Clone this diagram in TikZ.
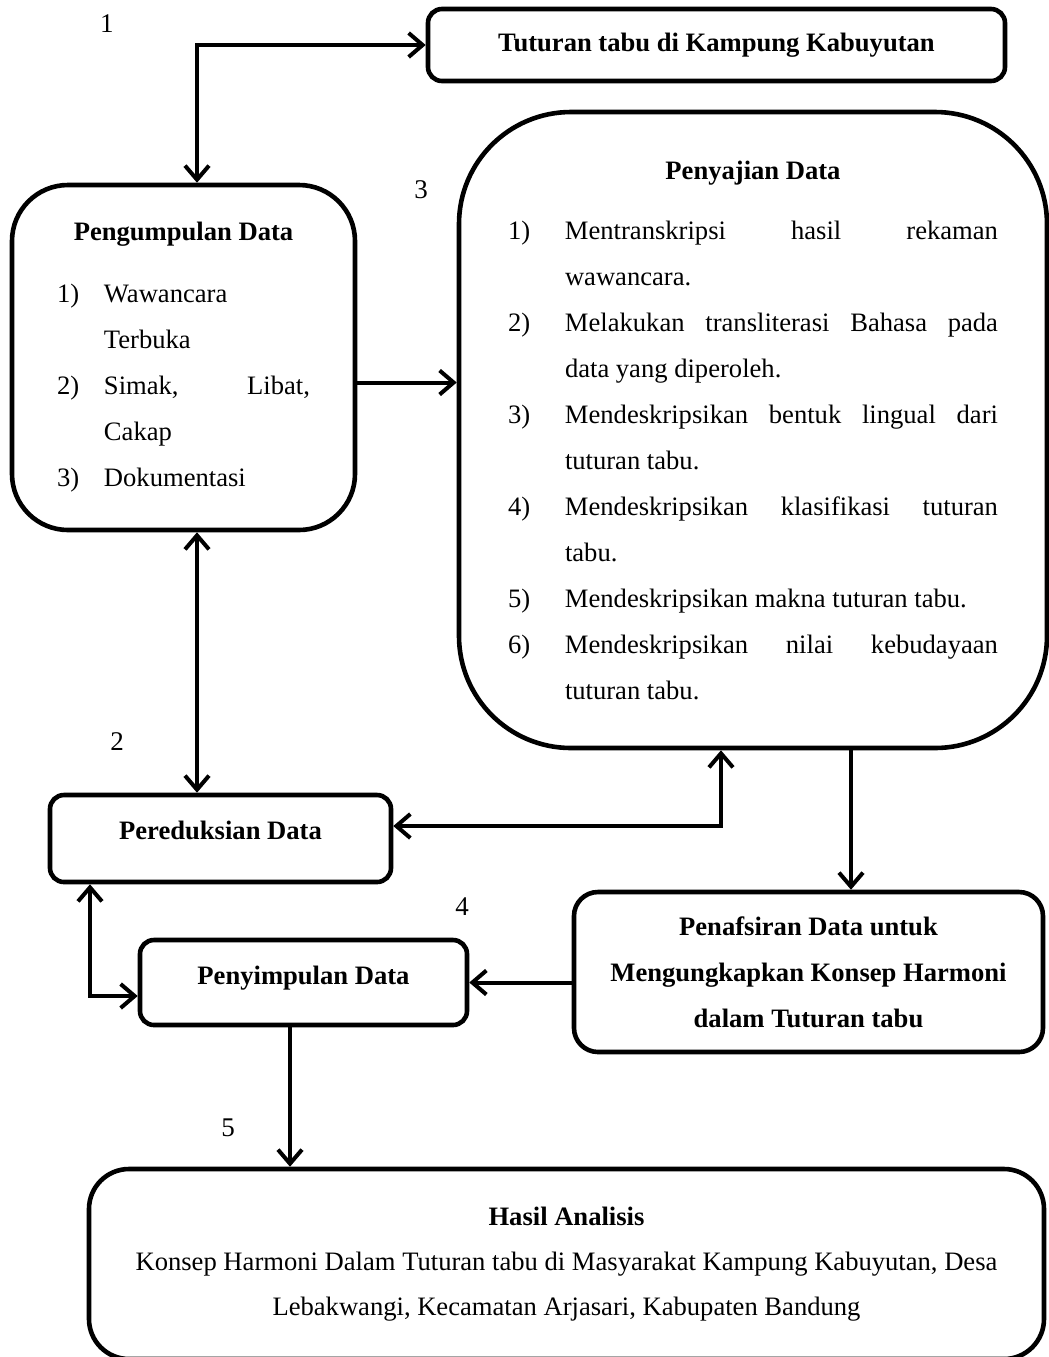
\documentclass[tikz,border=0pt]{standalone}
\usepackage{fontspec}
\setmainfont{Liberation Serif}
\usetikzlibrary{arrows.meta,positioning,calc}
\newcommand{\butir}[2]{\par\noindent\hangindent=#1\hangafter=1\makebox[#1][l]{#2}}

\begin{document}
\begin{tikzpicture}[
    x=0.5pt, y=-0.5pt,
    font=\fontsize{13.3}{23}\selectfont,
    box/.style={rectangle, draw, line width=2.3pt, rounded corners=7pt, inner sep=0pt},
    bigbox/.style={box, text width=#1, align=justify},
    numlabel/.style={inner sep=0pt, font=\fontsize{13.5}{16}\selectfont},
    arrow/.style={-{Straight Barb[length=7pt,width=12pt]}, line width=2pt},
    biarrow/.style={{Straight Barb[length=7pt,width=12pt]}-{Straight Barb[length=7pt,width=12pt]}, line width=2pt},
]
\useasboundingbox (0,0) rectangle (1049,1357);

% Nodes
\node [box, minimum width=288.5pt, minimum height=36pt, font=\fontsize{13.3}{23}\selectfont\bfseries] (tutur) at (716.5,45) {Tuturan tabu di Kampung Kabuyutan};

\node [bigbox=126.5pt, minimum width=171.5pt, minimum height=172.5pt, rounded corners=28pt] (kumpul) at (183.5,357.5) {%
{\centering\textbf{Pengumpulan Data}\par}\vspace{8pt}
\butir{23.5pt}{1)}Wawancara\newline Terbuka
\butir{23.5pt}{2)}Simak, Libat,\linebreak Cakap
\butir{23.5pt}{3)}Dokumentasi\par};

\node [bigbox=245pt, minimum width=294pt, minimum height=318pt, rounded corners=56pt] (saji) at (753,430) {%
{\centering\textbf{Penyajian Data}\par}\vspace{7pt}
\butir{28.5pt}{1)}Mentranskripsi hasil rekaman\linebreak wawancara.
\butir{28.5pt}{2)}Melakukan transliterasi Bahasa pada\linebreak data yang diperoleh.
\butir{28.5pt}{3)}Mendeskripsikan bentuk lingual dari\linebreak tuturan tabu.
\butir{28.5pt}{4)}Mendeskripsikan klasifikasi tuturan\linebreak tabu.
\butir{28.5pt}{5)}Mendeskripsikan makna tuturan tabu.
\butir{28.5pt}{6)}Mendeskripsikan nilai kebudayaan\linebreak tuturan tabu.\par};

\node [box, minimum width=170.5pt, minimum height=43.5pt, font=\fontsize{13.3}{23}\selectfont\bfseries, text depth=8pt] (reduksi) at (220.5,838.5) {Pereduksian Data};
\node [box, minimum width=163.5pt, minimum height=42.5pt, font=\fontsize{13.3}{23}\selectfont\bfseries, text depth=7pt] (simpul) at (303.5,982.5) {Penyimpulan Data};
\node [box, minimum width=234.5pt, minimum height=80pt, rounded corners=12pt, align=center, font=\fontsize{13.3}{23}\selectfont\bfseries] (tafsir) at (808.5,972) {Penafsiran Data untuk\\Mengungkapkan Konsep Harmoni\\dalam Tuturan tabu};
\node [box, minimum width=477.5pt, minimum height=95pt, rounded corners=20pt, align=center, font=\fontsize{13.3}{22.5}\selectfont] (hasil) at (566.5,1264) {\textbf{Hasil Analisis}\\Konsep Harmoni Dalam Tuturan tabu di Masyarakat Kampung Kabuyutan, Desa\\Lebakwangi, Kecamatan Arjasari, Kabupaten Bandung};

% Step numbers
\node [numlabel] (n1) at (107,24) {1};
\node [numlabel] (n2) at (117,742) {2};
\node [numlabel] (n3) at (421,190) {3};
\node [numlabel] (n4) at (462,907) {4};
\node [numlabel] (n5) at (228,1128) {5};

% Arcs/Paths
\draw [biarrow] ([xshift=6.75pt]kumpul.north) |- (tutur.west);
\draw [arrow] ([yshift=-12.5pt]kumpul.east) -- ([yshift=-12.5pt]kumpul.east -| saji.west);
\draw [biarrow] ([xshift=6.75pt]kumpul.south) -- ([xshift=6.75pt]kumpul.south |- reduksi.north);
\draw [biarrow] ([yshift=6.25pt]reduksi.east) -| ([xshift=-16pt]saji.south);
\draw [arrow] ([xshift=49pt]saji.south) -- ([xshift=49pt]saji.south |- tafsir.north);
\draw [arrow] (tafsir.west |- simpul.east) -- (simpul.east);
\draw [biarrow] ([xshift=-65.25pt]reduksi.south) |- ([yshift=-6.75pt]simpul.west);
\draw [arrow] ([xshift=-6.75pt]simpul.south) -- ([xshift=-6.75pt]simpul.south |- hasil.north);

\end{tikzpicture}
\end{document}
